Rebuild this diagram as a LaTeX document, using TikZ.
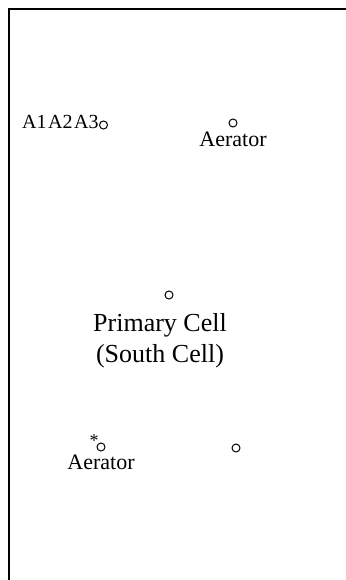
\documentclass[tikz,border=0pt]{standalone}
\usepackage{fontspec}
\setmainfont{Liberation Serif}
\begin{document}
\begin{tikzpicture}[x=1pt,y=-1pt,
  frame/.style={line width=2pt, line cap=rect},
  port/.style={circle, draw, line width=1pt, minimum size=8pt, inner sep=0pt},
  lbl/.style={inner sep=0pt, font=\fontsize{22}{26}\selectfont},
  biglbl/.style={inner sep=0pt, align=center, font=\fontsize{26}{31}\selectfont}]
  \useasboundingbox (0,0) rectangle (345,580);
  % cell outline (top and west walls)
  \coordinate (ne) at (345,9);
  \coordinate (nw) at (9,9);
  \coordinate (sw) at (9,580);
  \draw[frame] (ne) -- (nw) -- (sw);

  % sampling points A1 A2 A3
  \node[lbl, anchor=base west, font=\fontsize{20}{25}\selectfont] (alabel) at (22,129) {A1\kern1.5pt A2\kern1.5pt A3};
  \node[port] (a3) at (103.5,125) {};

  % north aerator
  \node[port] (aer1) at (233,123) {};
  \node[lbl, anchor=base] (aer1lbl) at (233,147) {Aerator};

  % cell centre
  \node[port] (mid) at (169,295) {};
  \node[biglbl, anchor=base] (cell) at (160,362) {Primary Cell\\(South Cell)};

  % south aerator
  \node[port] (aer2) at (101,447) {};
  \node[inner sep=0pt, text depth=0pt, anchor=base, font=\fontsize{18}{20}\selectfont] (star) at (94,446.5) {*};
  \node[lbl, anchor=base] (aer2lbl) at (101,469) {Aerator};

  % south-east point
  \node[port] (se) at (236,448) {};
\end{tikzpicture}
\end{document}
